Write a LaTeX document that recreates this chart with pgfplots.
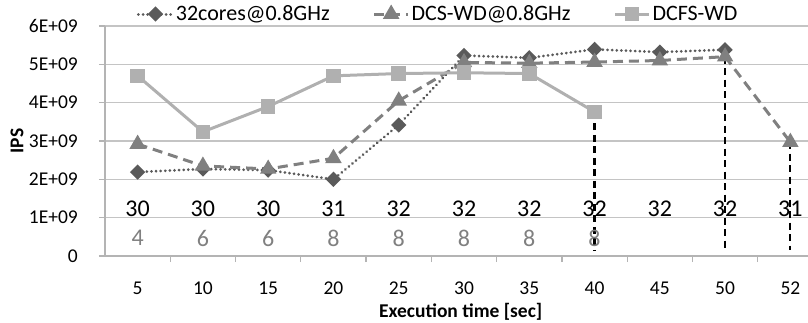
\documentclass[border=0pt]{standalone}
\usepackage{fontspec}
\setmainfont{Carlito}
\usepackage{pgfplots}
\pgfplotsset{compat=1.18}
\definecolor{cA}{HTML}{5A5A5A}
\definecolor{cB}{HTML}{808080}
\definecolor{cC}{HTML}{B0B0B0}
\definecolor{cNum}{HTML}{808080}
\definecolor{cGrid}{HTML}{C4C4C4}
\definecolor{cAxis}{HTML}{B4B4B4}
\begin{document}
\begin{tikzpicture}
\begin{axis}[
  scale only axis, width=703pt, height=230pt,
  xmin=-0.5, xmax=10.27, ymin=0, ymax=6,
  axis lines*=left,
  axis line style={cAxis, line width=1.2pt},
  xtick={0,...,10},
  xticklabels={5,10,15,20,25,30,35,40,45,50,52},
  major x tick style={draw=none},
  minor xtick={0.5,1.5,2.5,3.5,4.5,5.5,6.5,7.5,8.5,9.5},
  minor x tick style={cAxis, line width=1.2pt},
  minor tick length=6pt,
  ytick={0,1,2,3,4,5,6},
  yticklabels={0,1E+09,2E+09,3E+09,4E+09,5E+09,6E+09},
  y tick style={cAxis, line width=1.2pt},
  major tick length=6pt,
  tick align=outside,
  ymajorgrids,
  grid style={cGrid, line width=1.2pt},
  tick label style={font=\fontsize{19.5}{21}\selectfont},
  xticklabel style={anchor=base, inner sep=0pt, yshift=-32pt},
  yticklabel style={anchor=east, inner sep=0pt, xshift=-21pt},
  xlabel={Execution time [sec]},
  ylabel={IPS},
  label style={font=\bfseries\fontsize{19.5}{21}\selectfont},
  xlabel style={at={(axis description cs:0.506,0)}, anchor=base, inner sep=0pt, yshift=-61pt},
  ylabel style={at={(axis description cs:-0.1252,0.5)}, anchor=center},
  clip=false,
  legend columns=3,
  legend style={draw=none, fill=none, at={(0.474,1)}, anchor=center, yshift=12pt,
    font=\fontsize{22}{24}\selectfont,
    /tikz/every even column/.append style={column sep=41pt}},
  legend image code/.code={\draw[mark repeat=2,mark phase=2,#1] plot coordinates {(0pt,0pt) (17pt,0pt) (34pt,0pt)};},
]
% annotations
\addplot[draw=none, forget plot, nodes near coords, point meta=explicit symbolic,
  every node near coord/.append style={anchor=center, font=\fontsize{24}{24}\selectfont, text=black}]
  coordinates {(0,1.23)[30] (1,1.23)[30] (2,1.23)[30] (3,1.23)[31] (4,1.23)[32] (5,1.23)[32]
               (6,1.23)[32] (7,1.23)[32] (8,1.23)[32] (9,1.23)[32] (10,1.23)[31]};
\addplot[draw=none, forget plot, nodes near coords, point meta=explicit symbolic,
  every node near coord/.append style={anchor=center, font=\fontsize{24}{24}\selectfont, text=cNum}]
  coordinates {(0,0.47)[4] (1,0.47)[6] (2,0.47)[6] (3,0.47)[8] (4,0.47)[8] (5,0.47)[8]
               (6,0.47)[8] (7,0.47)[8]};
% vertical dashed lines
\addplot[black, line width=2.2pt, dash pattern=on 7pt off 4.5pt, forget plot] coordinates {(7,3.76) (7,0.12)};
\addplot[black, line width=2.2pt, dash pattern=on 7pt off 4.5pt, forget plot] coordinates {(9,5.2) (9,0.10)};
\addplot[black, line width=2.2pt, dash pattern=on 7pt off 4.5pt, forget plot] coordinates {(10,2.97) (10,0.15)};
% series
\addplot[cA, line width=3pt, line cap=round, dash pattern=on 0.01pt off 4.6pt,
  mark=square*, mark size=3.9pt, mark options={solid, rotate=45, fill=cA, draw=cA}]
  coordinates {(0,2.19) (1,2.27) (2,2.24) (3,2.0) (4,3.42) (5,5.23) (6,5.17) (7,5.39) (8,5.32) (9,5.38)};
\addlegendentry{32cores@0.8GHz}
\addplot[cB, line width=3pt, dash pattern=on 10pt off 6pt,
  mark=triangle*, mark size=6.5pt, mark options={solid, fill=cB, draw=cB}]
  coordinates {(0,2.92) (1,2.35) (2,2.27) (3,2.55) (4,4.05) (5,5.05) (6,5.03) (7,5.06) (8,5.1) (9,5.2) (10,2.97)};
\addlegendentry{DCS-WD@0.8GHz}
\addplot[cC, line width=3pt,
  mark=square*, mark size=5.8pt, mark options={solid, fill=cC, draw=cC}]
  coordinates {(0,4.7) (1,3.24) (2,3.9) (3,4.7) (4,4.76) (5,4.78) (6,4.76) (7,3.76)};
\addlegendentry{DCFS-WD}
\end{axis}
\pgfresetboundingbox
\path (current axis.south west) ++(-105pt,-66pt) rectangle ++(808pt,322pt);
\end{tikzpicture}
\end{document}
